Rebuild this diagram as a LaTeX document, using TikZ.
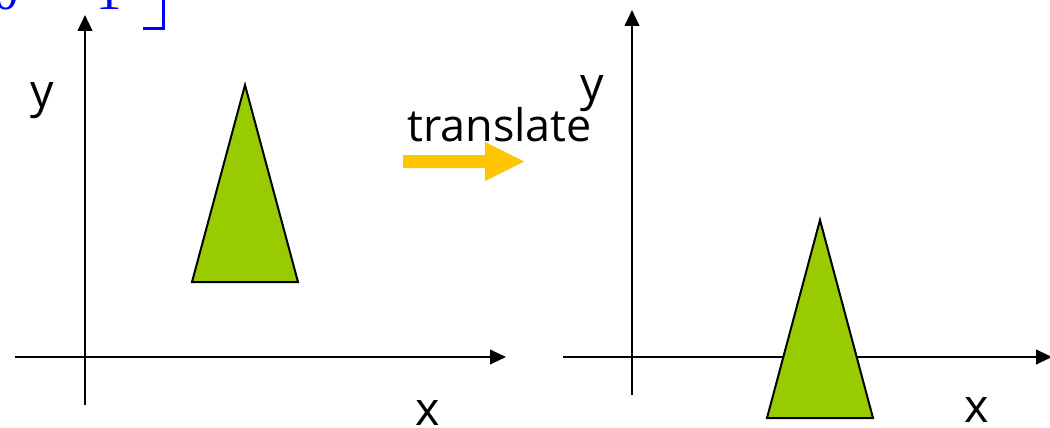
\documentclass[tikz,border=0pt]{standalone}
\usepackage{fontspec}
\setmainfont{Open Sans}
\newfontfamily\serifdig{Liberation Serif}
\usetikzlibrary{arrows.meta}
\definecolor{trigreen}{RGB}{153,204,0}
\definecolor{arrowyellow}{RGB}{255,198,0}
\definecolor{matblue}{RGB}{0,0,255}
\tikzset{
  axis/.style={line width=1.5pt,-{Triangle[length=12pt,width=11pt]}},
  tri/.style={fill=trigreen,draw=black,line width=1.5pt,line join=miter},
  lbl/.style={font=\fontsize{35}{40}\selectfont,anchor=base,inner sep=0pt},
  digit/.style={font=\serifdig\fontsize{38}{40}\selectfont,text=matblue,anchor=base,inner sep=0pt}
}
\begin{document}
\begin{tikzpicture}[x=0.75pt,y=-0.75pt]
\useasboundingbox (0,0) rectangle (1050,428);
\clip (0,0) rectangle (1050,428);
% blue matrix fragment
\node[digit] (d0) at (6,10) {0};
\node[digit] (d1) at (109,10) {1};
\draw[matblue,line width=2.2pt] (163.5,-5) -- (163.5,28.5) -- (143,28.5);
% left axes
\coordinate (lxs) at (15,357);
\coordinate (lxe) at (506,357);
\coordinate (lys) at (85,405);
\coordinate (lye) at (85,15);
\draw[axis] (lxs) -- (lxe);
\draw[axis] (lys) -- (lye);
\draw[tri] (245,85) coordinate (la) -- (298,282) coordinate (lb) -- (192,282) coordinate (lc) -- cycle;
\node[lbl] (ly) at (42,108) {y};
\node[lbl] (lx) at (428,425) {x};
% right axes
\coordinate (rxs) at (563,357);
\coordinate (rxe) at (1052,357);
\coordinate (rys) at (632,395);
\coordinate (rye) at (632,10);
\draw[axis] (rxs) -- (rxe);
\draw[axis] (rys) -- (rye);
\draw[tri] (820,220) coordinate (ra) -- (873,418) coordinate (rb) -- (767,418) coordinate (rc) -- cycle;
\node[lbl] (ry) at (592,100) {y};
\node[lbl] (rx) at (977,422) {x};
% translate arrow
\node[lbl,anchor=base west,font=\fontsize{33.7}{40}\selectfont] (tr) at (407,142) {translate};
\fill[arrowyellow] (403,155) -- (485,155) -- (485,142) -- (524,161.5) -- (485,181) -- (485,168) -- (403,168) -- cycle;
\end{tikzpicture}
\end{document}
